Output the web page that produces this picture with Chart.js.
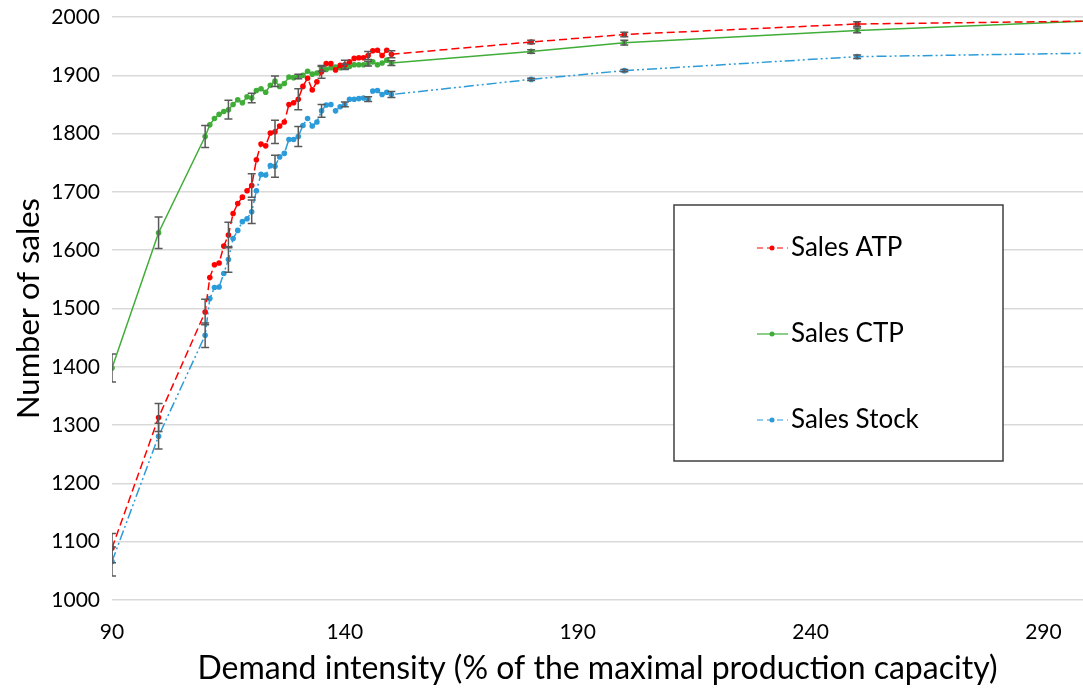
<!DOCTYPE html>
<html>
<head>
<meta charset="utf-8">
<script src="https://cdn.jsdelivr.net/npm/chart.js@4/dist/chart.umd.min.js"></script>
<style>
  body { margin: 0; background: #fff; }
  canvas { display: block; }
</style>
</head>
<body>
<canvas id="salesChart" width="1083" height="688"></canvas>
<script>
// Demand intensity values (x)
const demand = [90, 100, 110, 111, 112, 113, 114, 115, 116, 117, 118, 119, 120,
  121, 122, 123, 124, 125, 126, 127, 128, 129, 130, 131, 132, 133, 134, 135,
  136, 137, 138, 139, 140, 141, 142, 143, 144, 145, 146, 147, 148, 149, 150,
  180, 200, 250, 300];

// Number of sales per policy
const salesATP = [1089, 1313, 1494, 1553, 1575, 1578, 1607, 1626, 1663, 1680, 1691, 1702, 1711,
  1755, 1782, 1779, 1801, 1803, 1813, 1820, 1850, 1853, 1859, 1881, 1895, 1875, 1889, 1906,
  1920, 1920, 1909, 1917, 1918, 1923, 1929, 1930, 1930, 1934, 1942, 1943, 1934, 1943, 1936,
  1957, 1970, 1988, 1993];
const salesCTP = [1398, 1630, 1795, 1815, 1826, 1833, 1838, 1841, 1850, 1858, 1853, 1863, 1861,
  1874, 1877, 1871, 1883, 1890, 1881, 1886, 1897, 1896, 1898, 1900, 1907, 1902, 1904, 1911,
  1910, 1913, 1914, 1913, 1915, 1915, 1918, 1918, 1918, 1920, 1923, 1918, 1921, 1926, 1921,
  1941, 1956, 1977, 1993];
const salesStock = [1066, 1281, 1454, 1517, 1536, 1537, 1560, 1584, 1620, 1634, 1649, 1654, 1666,
  1702, 1730, 1729, 1745, 1744, 1760, 1766, 1790, 1790, 1795, 1814, 1826, 1813, 1820, 1839,
  1849, 1850, 1839, 1846, 1850, 1859, 1859, 1860, 1861, 1859, 1873, 1874, 1867, 1871, 1867,
  1893, 1908, 1932, 1938];

// Error bar half-widths (null = no bar)
const errATP = [25, 24, 22, null, null, null, null, 22, null, null, null, null, 20,
  null, null, null, null, 20, null, null, null, null, 18, null, null, null, null, 11,
  null, null, null, null, 8, null, null, null, null, 7, null, null, null, null, 6,
  3, 4, 4, 3];
const errCTP = [24, 27, 19, null, null, null, null, 16, null, null, null, null, 8,
  null, null, null, null, 9, null, null, null, null, 4, null, null, null, null, 4,
  null, null, null, null, 4, null, null, null, null, 4, null, null, null, null, 4,
  3, 4, 4, 3];
const errStock = [25, 22, 21, null, null, null, null, 22, null, null, null, null, 20,
  null, null, null, null, 19, null, null, null, null, 17, null, null, null, null, 11,
  null, null, null, null, 4, null, null, null, null, 4, null, null, null, null, 5,
  2, 2, 3, 3];

const xTicks = [90, 140, 190, 240, 290];

const toPoints = vals => vals.map((v, i) => ({ x: demand[i], y: v }));

// Draws the vertical error bars of each series
const errorBars = {
  id: 'errorBars',
  afterDatasetsDraw(chart) {
    const ctx = chart.ctx;
    const a = chart.chartArea;
    const xs = chart.scales.x, ys = chart.scales.y;
    ctx.save();
    ctx.beginPath();
    ctx.rect(a.left, a.top, a.right - a.left, a.bottom - a.top);
    ctx.clip();
    ctx.strokeStyle = '#595959';
    ctx.lineWidth = 1.5;
    chart.data.datasets.forEach(ds => {
      ds.errors.forEach((e, i) => {
        if (e == null) return;
        const px = xs.getPixelForValue(ds.data[i].x);
        const top = ys.getPixelForValue(ds.data[i].y + e);
        const bot = ys.getPixelForValue(ds.data[i].y - e);
        ctx.beginPath();
        ctx.moveTo(px, top); ctx.lineTo(px, bot);
        ctx.moveTo(px - 4, top); ctx.lineTo(px + 4, top);
        ctx.moveTo(px - 4, bot); ctx.lineTo(px + 4, bot);
        ctx.stroke();
      });
    });
    ctx.restore();
  }
};

// Boxed legend inside the plot
const legendBox = {
  id: 'legendBox',
  afterDraw(chart) {
    const ctx = chart.ctx;
    const a = chart.chartArea;
    const left = a.left + 562, top = a.top + 188, w = 329, h = 256;
    ctx.save();
    ctx.fillStyle = '#fff';
    ctx.fillRect(left, top, w, h);
    ctx.strokeStyle = '#404040';
    ctx.lineWidth = 1.5;
    ctx.strokeRect(left, top, w, h);
    chart.data.datasets.forEach((ds, i) => {
      const y = top + 43 + i * 86;
      ctx.strokeStyle = ds.borderColor;
      ctx.lineWidth = 1.2;
      ctx.setLineDash(ds.borderDash.length ? [6, 4] : []);
      ctx.beginPath();
      ctx.moveTo(left + 83, y);
      ctx.lineTo(left + 114, y);
      ctx.stroke();
      ctx.setLineDash([]);
      ctx.fillStyle = ds.backgroundColor;
      ctx.beginPath();
      ctx.arc(left + 98, y, 2.5, 0, Math.PI * 2);
      ctx.fill();
      ctx.fillStyle = '#000';
      ctx.font = '26px Lato';
      ctx.textBaseline = 'middle';
      ctx.fillText(ds.label, left + 117, y);
    });
    ctx.restore();
  }
};

const ctx = document.getElementById('salesChart').getContext('2d');
new Chart(ctx, {
  type: 'line',
  data: {
    datasets: [
      { label: 'Sales ATP', data: toPoints(salesATP), errors: errATP,
        borderColor: '#ff0000', backgroundColor: '#ff0000', borderWidth: 1.5,
        borderDash: [8, 4], pointRadius: 2.8, pointBorderWidth: 0 },
      { label: 'Sales CTP', data: toPoints(salesCTP), errors: errCTP,
        borderColor: '#3fad38', backgroundColor: '#3fad38', borderWidth: 1.5,
        borderDash: [], pointRadius: 2.8, pointBorderWidth: 0 },
      { label: 'Sales Stock', data: toPoints(salesStock), errors: errStock,
        borderColor: '#2b9bd9', backgroundColor: '#2b9bd9', borderWidth: 1.5,
        borderDash: [10, 3, 2, 3, 2, 3], pointRadius: 2.8, pointBorderWidth: 0 }
    ]
  },
  options: {
    responsive: false,
    animation: false,
    layout: { autoPadding: false, padding: { top: 0, right: 0, left: 4, bottom: 0 } },
    plugins: { legend: { display: false }, tooltip: { enabled: false } },
    scales: {
      x: {
        type: 'linear',
        min: 90,
        max: 298.5,
        afterBuildTicks: axis => { axis.ticks = xTicks.map(v => ({ value: v })); },
        afterFit: axis => { axis.height = 88; axis.paddingLeft = 0; axis.paddingRight = 0; },
        grid: { display: false, drawTicks: false },
        border: { display: false },
        ticks: { color: '#000', font: { family: 'Lato', size: 21 }, padding: 20, maxRotation: 0 },
        title: { display: true, text: 'Demand intensity (% of the maximal production capacity)',
          color: '#000', font: { family: 'Lato', size: 32 }, padding: { top: 0, bottom: 0 } }
      },
      y: {
        min: 1000,
        max: 2000,
        afterFit: axis => { axis.width = 108; axis.paddingTop = 17; axis.paddingBottom = 0; },
        ticks: { stepSize: 100, color: '#000', font: { family: 'Lato', size: 21 }, padding: 12,
          callback: v => String(v) },
        grid: { color: '#d9d9d9', lineWidth: 1.5, drawTicks: false },
        border: { display: false },
        title: { display: true, text: 'Number of sales', color: '#000',
          font: { family: 'Lato', size: 31 }, padding: { top: 6, bottom: 6 } }
      }
    }
  },
  plugins: [errorBars, legendBox]
});
</script>
</body>
</html>
